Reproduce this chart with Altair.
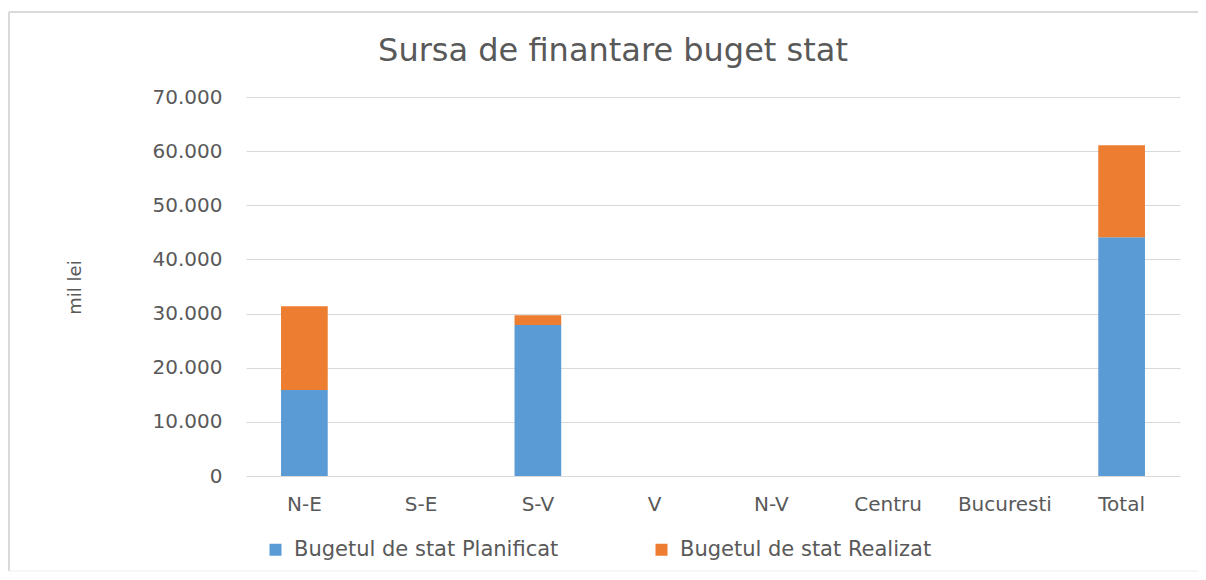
import altair as alt
import pandas as pd

categories = ["N-E", "S-E", "S-V", "V", "N-V", "Centru", "Bucuresti", "Total"]
planificat = [15900, 0, 27900, 0, 0, 0, 0, 44100]
realizat = [15450, 0, 1800, 0, 0, 0, 0, 17000]
series = ["Bugetul de stat Planificat", "Bugetul de stat Realizat"]
colors = ["#5B9BD5", "#ED7D31"]
title_text = ["Sursa de finantare buget stat"]

rows = []
for c, p, r in zip(categories, planificat, realizat):
    rows.append({"cat": c, "serie": series[0], "val": p, "ord": 0})
    rows.append({"cat": c, "serie": series[1], "val": r, "ord": 1})
df = pd.DataFrame(rows)

FONT = "DejaVu Sans"
GREY = "#595959"

bars = alt.Chart(df).mark_bar().encode(
    x=alt.X("cat:N", sort=categories,
            scale=alt.Scale(paddingInner=0.6, paddingOuter=0.3),
            axis=alt.Axis(title=None, labelAngle=0, ticks=False, grid=False,
                          domain=False, labelPadding=18, labelFontSize=20,
                          labelColor=GREY, labelFont=FONT)),
    y=alt.Y("sum(val):Q", stack="zero",
            scale=alt.Scale(domain=[0, 70000], nice=False),
            axis=alt.Axis(title="mil lei", values=list(range(0, 70001, 10000)),
                          labelExpr="replace(format(datum.value, ','), ',', '.')",
                          ticks=False, domain=False, labelPadding=24,
                          labelFontSize=20, labelColor=GREY, labelFont=FONT,
                          gridColor="#d9d9d9", gridWidth=1,
                          titleFontSize=18, titleFontWeight="normal",
                          titleColor=GREY, titleFont=FONT,
                          titleX=-171, titleY=190, titleBaseline="middle")),
    color=alt.Color("serie:N", scale=alt.Scale(domain=series, range=colors),
                    legend=alt.Legend(title=None, orient="none", direction="horizontal",
                                      legendX=19, legendY=442,
                                      symbolType="square", symbolSize=144,
                                      symbolStrokeWidth=0, labelLimit=0,
                                      labelFontSize=21, labelColor=GREY, labelFont=FONT,
                                      columnPadding=92, labelOffset=8)),
    order=alt.Order("ord:Q"),
)

single = pd.DataFrame({"t": title_text})

border_top = alt.Chart(single).mark_rule(stroke="#d9d9d9", strokeWidth=2).encode(
    x=alt.value(-237), x2=alt.value(960), y=alt.value(-85)
)
border_left = alt.Chart(single).mark_rule(stroke="#d9d9d9", strokeWidth=2).encode(
    x=alt.value(-237), y=alt.value(-85), y2=alt.value(474)
)
border_bottom = alt.Chart(single).mark_rule(stroke="#eeeeee", strokeWidth=1).encode(
    x=alt.value(-237), x2=alt.value(960), y=alt.value(474)
)

title = alt.Chart(single).mark_text(
    font=FONT, fontSize=32, color=GREY, align="center", baseline="alphabetic"
).encode(
    text="t:N", x=alt.value(367), y=alt.value(-36),
)

chart = alt.layer(border_top, border_left, border_bottom, title, bars).properties(
    width=934, height=379,
    autosize=alt.AutoSizeParams(type="none"),
    padding={"left": 238, "top": 89, "right": 18, "bottom": 96},
).configure_view(stroke=None)

chart.save("out.html", embed_options={"renderer": "svg", "actions": False})
